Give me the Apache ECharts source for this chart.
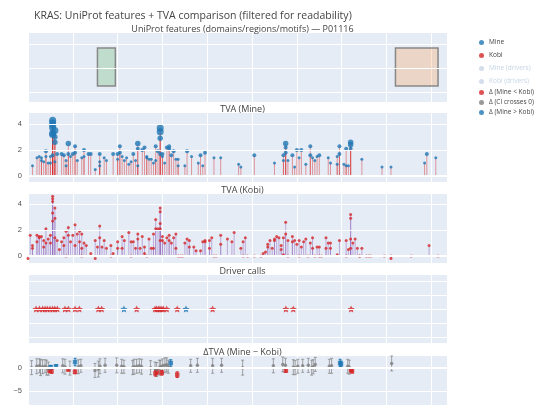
<!DOCTYPE html>
<html>
<head>
<meta charset="utf-8">
<script src="https://cdn.jsdelivr.net/npm/echarts@6/dist/echarts.min.js"></script>
<style>html,body{margin:0;padding:0;background:#fff}#main{width:540px;height:405px}</style>
</head>
<body>
<div id="main"></div>
<script>
// ---- data ----
var featStart = [31, 164];
var featEnd = [39, 183];

var mineTva = [[2,0.8],[4,1.4],[5,1.5],[6,1.4],[6,1.2],[7,1.1],[8,1.9],[8,1.5],[9,1.0],[10,1.0],[10,1.5],[11,4.3],[11,4.1],[11,3.9],[11,3.7],[11,3.3],[11,3.2],[12,3.5],[12,3.0],[12,2.6],[11,1.6],[12,1.1],[13,1.7],[15,1.7],[16,1.6],[17,1.2],[17,0.8],[18,1.7],[18,2.5],[19,1.5],[20,1.7],[21,2.3],[21,1.8],[22,1.2],[24,1.4],[25,2.0],[25,1.5],[27,1.7],[28,1.7],[30,0.5],[32,1.7],[32,1.1],[32,0.8],[34,1.4],[35,1.2],[38,1.7],[40,1.7],[40,1.3],[41,2.3],[41,1.8],[42,1.5],[43,1.2],[44,1.4],[45,0.9],[46,1.1],[47,1.7],[48,1.2],[49,2.5],[49,2.1],[49,0.8],[51,2.0],[52,2.2],[53,1.4],[53,1.5],[54,1.3],[55,1.3],[56,1.0],[57,1.2],[57,2.3],[58,1.9],[59,3.7],[59,3.4],[59,2.9],[59,1.7],[60,1.7],[60,1.5],[61,1.0],[62,2.2],[63,2.3],[63,2.1],[64,1.6],[65,1.9],[66,1.3],[67,0.8],[67,1.3],[70,0.8],[71,1.9],[73,1.5],[76,1.0],[77,1.6],[78,0.8],[79,1.8],[83,1.4],[86,1.4],[94,0.9],[95,0.7],[101,1.6],[110,1.0],[114,1.2],[114,1.6],[115,1.8],[115,2.5],[115,2.2],[116,1.2],[118,1.6],[119,0.7],[120,2.0],[121,1.4],[122,2.0],[124,0.9],[126,1.6],[126,2.3],[127,1.4],[128,1.2],[129,1.5],[130,1.6],[134,1.4],[135,1.0],[138,1.5],[138,0.9],[139,1.7],[139,2.3],[141,0.9],[142,2.1],[142,0.8],[143,0.8],[144,2.6],[144,2.4],[144,2.1],[149,1.3],[158,0.7],[162,0.7],[177,1.0],[178,1.7],[182,1.4]];

var kobiTva = [[0,-0.2],[1,1.6],[2,0.8],[2,0.6],[4,1.6],[4,1.1],[5,1.5],[5,1.4],[6,1.5],[7,0.7],[7,1.2],[8,2.1],[8,1.0],[9,1.3],[10,1.6],[10,1.0],[11,4.6],[11,4.4],[11,4.2],[11,3.3],[11,2.7],[12,3.7],[12,2.9],[12,1.4],[13,1.2],[14,0.5],[15,1.1],[16,0.8],[16,1.4],[17,0],[17,1.9],[18,2.2],[18,1.6],[19,1.1],[20,1.6],[21,2.4],[21,0.8],[22,1.7],[23,1.9],[23,1.1],[24,0.6],[24,0],[24,1.7],[25,1.0],[26,0.8],[28,0.2],[30,-0.2],[30,1.2],[31,0.7],[32,2.3],[32,1.4],[33,0.7],[34,1.2],[35,0.6],[37,0],[37,0.8],[38,0.2],[40,1.1],[40,0.6],[42,1.5],[42,0.6],[43,1.2],[45,1.8],[46,0],[46,1.1],[47,1.1],[48,0.6],[49,1.7],[49,1.3],[50,0.6],[51,1.5],[52,0.7],[52,0.2],[53,0],[54,1.3],[55,0.6],[56,0.6],[56,1.7],[57,2.1],[57,2.8],[58,2.1],[59,3.7],[59,3.4],[59,2.5],[59,2.1],[59,1.2],[60,1.2],[60,1.5],[61,1.0],[62,1.4],[63,1.6],[63,1.2],[64,1.0],[65,1.4],[66,0.6],[66,1.7],[67,0],[68,0],[69,0],[70,1.0],[71,1.3],[72,1.2],[72,0.7],[74,0.7],[75,0.4],[77,0.4],[78,1.1],[79,1.1],[79,1.2],[81,1.2],[81,0.6],[82,1.4],[83,0],[84,0],[86,1.6],[86,0.9],[89,1.3],[91,1.1],[92,1.8],[95,0.6],[96,0],[96,1.1],[97,1.4],[98,0],[101,0],[104,0],[105,0.2],[106,0.3],[107,0.7],[107,0.9],[108,1.2],[109,0.6],[110,1.2],[110,1.3],[111,1.5],[112,1.4],[113,0.8],[113,0.5],[114,0.1],[114,1.4],[115,2.6],[115,1.7],[116,1.2],[116,0],[118,1.1],[118,1.5],[119,1.2],[120,0.9],[121,1.2],[121,0],[122,0.7],[123,1.1],[124,1.3],[125,0],[126,1.0],[127,0.6],[127,1.4],[128,0],[129,0.7],[130,0],[130,0.7],[131,0],[133,1.4],[133,0.6],[134,1.0],[135,1.0],[135,0.6],[138,0.1],[139,1.2],[142,0],[142,1.2],[143,0.5],[144,3.2],[144,2.9],[144,1.3],[144,0.6],[145,1.0],[146,1.3],[147,0.6],[148,0],[148,0],[149,0.6],[151,0],[152,0],[153,0],[159,0],[162,0],[162,-0.2],[171,0],[179,0.8],[183,0]];

var driverUpX = [3.6,5.1,6.5,7.6,8.6,9.8,11,12,13.1,16.5,18,21,22.9,31.4,32.9,48.5,56.7,57.4,58.2,58.9,59.7,60.4,61.9,66.6,82.4,115.1,118.4,144.2];
var driverMineX = [42.8, 70.5];

// [x, delta, CI half width]
var deltaGray = [[1.6,0,1.5],[3.9,0.3,1.6],[5.1,0.4,1.5],[5.6,0,1.7],[6.5,0.2,1.5],[7.6,0.3,1.4],[8.3,0,1.6],[9.1,-0.2,1.4],[15.5,0.4,1.5],[16.5,0.2,1.6],[18.7,-0.1,1.5],[22.5,0.2,1.5],[23.6,0.4,1.4],[29.9,-0.6,1.5],[31.4,-0.3,1.7],[32.1,0.3,1.6],[34.4,0.5,1.5],[39.6,0.5,1.6],[41.8,0.3,1.5],[42.8,0.2,1.4],[46.7,0,1.5],[47.3,0.2,1.6],[48.5,0.3,1.5],[49.7,0.4,1.5],[50.7,0.2,1.6],[54.7,0,1.5],[56.7,-0.2,1.4],[57.4,-0.4,1.5],[58.6,0,1.6],[59.2,0.2,1.4],[60.1,0.4,1.5],[61.1,0.5,1.6],[61.9,0.6,1.5],[62.6,0.2,1.4],[72.6,0.4,1.4],[75.6,0.5,1.5],[82.4,0.4,1.6],[86.4,0.5,1.5],[95.8,0,1.6],[109.5,0.4,1.5],[113.7,0.7,1.6],[114.9,0.5,1.5],[118.4,0.1,1.6],[119.2,0,1.5],[120.4,0.3,1.5],[122.6,0.4,1.4],[125.1,0.5,1.5],[126.6,0,1.6],[127.3,0.2,1.5],[128.2,0.7,1.5],[134.5,0.3,1.5],[135.5,0.4,1.6],[142.7,0.3,1.5],[143.4,0.1,1.5],[162.3,0.9,1.6]];
var deltaDown = [[9.6,-0.6,0.4],[10.5,-0.8,0.4],[18,-0.4,0.3],[21,-0.9,0.4],[56.9,-1.2,0.6],[57.6,-0.9,0.5],[59.7,-1.1,0.5],[66.6,-1.5,0.6],[115.1,-0.6,0.4],[144.2,-0.5,0.3],[144.6,-0.8,0.3]];
var deltaUp = [[10.1,0.1,0.4],[12.5,0.3,0.3],[21,1.2,0.8],[63.7,1.0,0.7],[139.3,1.0,0.8],[139.7,0.8,0.6]];

var gridTicks = {
  feat: [0, 1, 2],
  mine: [0, 2, 4],
  kobi: [0, 2, 4],
  driver: [-2, -1, 0, 1, 2],
  delta: [-5, 0]
};

// ---- layout ----
var BLUE = '#1f77b4', RED = '#d62728', GRAY = '#7f7f7f';
var panels = [
  {top: 33, h: 69, min: -0.42, max: 2.46, ticks: gridTicks.feat, lab: false, title: 'UniProt features (domains/regions/motifs) — P01116'},
  {top: 113, h: 69, min: -0.46, max: 4.85, ticks: gridTicks.mine, lab: true, title: 'TVA (Mine)'},
  {top: 194, h: 69, min: -0.54, max: 4.77, ticks: gridTicks.kobi, lab: true, title: 'TVA (Kobi)'},
  {top: 275, h: 68, min: -2.43, max: 2.43, ticks: gridTicks.driver, lab: false, title: 'Driver calls'},
  {top: 356, h: 54.6, min: -8, max: 2.5, ticks: gridTicks.delta, lab: true, title: 'ΔTVA (Mine − Kobi)'}
];

var grids = [], xAxes = [], yAxes = [], titles = [], series = [];
titles.push({text: 'KRAS: UniProt features + TVA comparison (filtered for readability)', left: 29, top: 6,
  textStyle: {fontSize: 10.5, fontWeight: 'normal', color: '#444', fontFamily: 'Open Sans'}});
panels.forEach(function (p, i) {
  grids.push({left: 28, width: 419, top: p.top, height: p.h, backgroundColor: '#e5ecf6', show: true, borderWidth: 0});
  xAxes.push({type: 'value', gridIndex: i, min: 0, max: 187, interval: 20,
    axisLabel: {show: false}, axisLine: {show: false}, axisTick: {show: false},
    splitLine: {lineStyle: {color: '#fff', width: 1}}});
  yAxes.push({type: 'value', gridIndex: i, min: p.min, max: p.max,
    axisLabel: {show: false}, axisLine: {show: false}, axisTick: {show: false}, splitLine: {show: false}});
  titles.push({text: p.title, left: 237.5, textAlign: 'center', top: p.top - 13,
    textStyle: {fontSize: 9, fontWeight: 'normal', color: '#444', fontFamily: 'Open Sans'}});
  series.push({type: 'line', xAxisIndex: i, yAxisIndex: i, data: [], silent: true, z: 0,
    markLine: {silent: true, symbol: 'none', animation: false,
      lineStyle: {color: '#fff', type: 'solid', width: 1},
      label: {show: p.lab, position: 'start', color: '#555', fontSize: 7.5, distance: 6, formatter: function (d) { return d.value == -5 ? '−5' : d.value; }},
      data: p.ticks.map(function (t) { return {yAxis: t, lineStyle: {width: t === 0 && p.lab ? 2 : 1}}; })}});
});

// feature boxes
series.push({type: 'custom', xAxisIndex: 0, yAxisIndex: 0, silent: true,
  data: featStart.map(function (s, k) { return [s, featEnd[k], k]; }),
  renderItem: function (params, api) {
    var a = api.coord([api.value(0), 1.83]), b = api.coord([api.value(1), 0.25]);
    var fill = api.value(2) === 0 ? 'rgba(44,160,44,0.2)' : 'rgba(255,127,14,0.2)';
    return {type: 'rect', shape: {x: a[0], y: a[1], width: b[0] - a[0], height: b[1] - a[1]},
      style: {fill: fill, stroke: '#888', lineWidth: 1.5}};
  }});

// stems
function stems(data, idx, color) {
  return {type: 'custom', xAxisIndex: idx, yAxisIndex: idx, silent: true, data: data,
    renderItem: function (params, api) {
      var a = api.coord([api.value(0), 0]), b = api.coord([api.value(0), api.value(1)]);
      return {type: 'line', shape: {x1: a[0], y1: a[1], x2: b[0], y2: b[1]}, style: {stroke: color, lineWidth: 1}};
    }};
}
series.push(stems(mineTva, 1, 'rgba(214,39,40,0.45)'));
series.push(stems(kobiTva, 2, 'rgba(148,103,189,0.5)'));

series.push({name: 'Mine', type: 'scatter', xAxisIndex: 1, yAxisIndex: 1, data: mineTva, itemStyle: {color: BLUE},
  symbolSize: function (v) { return v[1] > 3 ? 7 : v[1] > 2.3 ? 5.5 : v[1] > 1.5 ? 4 : 3; }});
series.push({name: 'Kobi', type: 'scatter', xAxisIndex: 2, yAxisIndex: 2, data: kobiTva, itemStyle: {color: RED}, symbolSize: 3});
series.push({name: 'Mine (drivers)', type: 'scatter', xAxisIndex: 1, yAxisIndex: 1, data: [], symbol: 'diamond', itemStyle: {color: '#9ecae1'}});
series.push({name: 'Kobi (drivers)', type: 'scatter', xAxisIndex: 2, yAxisIndex: 2, data: [], symbol: 'diamond', itemStyle: {color: '#f4a6a6'}});

var STAR = 'path://M0,-10L2.9,-4L9.5,-3.1L4.8,1.5L5.9,8.1L0,5L-5.9,8.1L-4.8,1.5L-9.5,-3.1L-2.9,-4Z';
series.push({type: 'scatter', xAxisIndex: 3, yAxisIndex: 3, symbol: STAR,
  symbolSize: 7, itemStyle: {color: RED}, data: driverUpX.map(function (x) { return [x, 0]; })});
series.push({type: 'scatter', xAxisIndex: 3, yAxisIndex: 3, symbol: STAR,
  symbolSize: 7, itemStyle: {color: BLUE}, data: driverMineX.map(function (x) { return [x, 0]; })});

// delta with error bars
function errBars(data, color) {
  return {type: 'custom', xAxisIndex: 4, yAxisIndex: 4, silent: true, data: data,
    renderItem: function (params, api) {
      var x = api.value(0), y = api.value(1), e = api.value(2);
      var lo = api.coord([x, y - e]), hi = api.coord([x, y + e]);
      var st = {stroke: color, lineWidth: 1};
      return {type: 'group', children: [
        {type: 'line', shape: {x1: lo[0], y1: lo[1], x2: hi[0], y2: hi[1]}, style: st},
        {type: 'line', shape: {x1: lo[0] - 1.5, y1: lo[1], x2: lo[0] + 1.5, y2: lo[1]}, style: st},
        {type: 'line', shape: {x1: hi[0] - 1.5, y1: hi[1], x2: hi[0] + 1.5, y2: hi[1]}, style: st}]};
    }};
}
series.push(errBars(deltaGray, 'rgba(127,127,127,0.7)'));
series.push(errBars(deltaDown, RED));
series.push(errBars(deltaUp, BLUE));
series.push({name: 'Δ (Mine < Kobi)', type: 'scatter', xAxisIndex: 4, yAxisIndex: 4, symbol: 'rect', symbolSize: 4.5, itemStyle: {color: RED}, data: deltaDown});
series.push({name: 'Δ (CI crosses 0)', type: 'scatter', xAxisIndex: 4, yAxisIndex: 4, symbolSize: 3.5, itemStyle: {color: GRAY}, data: deltaGray});
series.push({name: 'Δ (Mine > Kobi)', type: 'scatter', xAxisIndex: 4, yAxisIndex: 4, symbol: 'rect', symbolSize: 4.5, itemStyle: {color: BLUE}, data: deltaUp});

var legTxt = {fontSize: 6.5, color: '#444', fontFamily: 'Open Sans'};
var chart = echarts.init(document.getElementById('main'));
chart.setOption({
  animation: false,
  title: titles,
  grid: grids, xAxis: xAxes, yAxis: yAxes,
  legend: [
    {left: 474, top: 34, orient: 'vertical', itemGap: 6, itemWidth: 5, itemHeight: 5, icon: 'circle', textStyle: legTxt,
      inactiveColor: '#c5d5e5', data: ['Mine', 'Kobi', 'Mine (drivers)', 'Kobi (drivers)'],
      selected: {'Mine (drivers)': false, 'Kobi (drivers)': false}},
    {left: 474, top: 84, orient: 'vertical', itemGap: 3, itemWidth: 5, itemHeight: 5, icon: 'circle', textStyle: legTxt,
      data: ['Δ (Mine < Kobi)', 'Δ (CI crosses 0)', 'Δ (Mine > Kobi)']}
  ],
  series: series
});
</script>
</body>
</html>
